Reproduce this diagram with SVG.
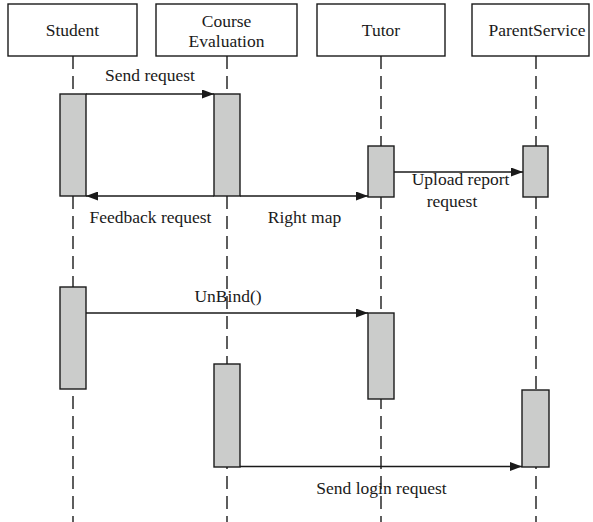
<svg xmlns="http://www.w3.org/2000/svg" width="593" height="522" viewBox="0 0 593 522">
<defs>
<style>
.box{fill:#fff;stroke:#1a1a1a;stroke-width:1.4}
.act{fill:#cbcccb;stroke:#1a1a1a;stroke-width:1.4}
.life{stroke:#1a1a1a;stroke-width:1.4;stroke-dasharray:13 7;fill:none}
.msg{stroke:#1a1a1a;stroke-width:1.4;fill:none;marker-end:url(#arr)}
text{font-family:"Liberation Serif","Times New Roman",serif;font-size:17.5px;fill:#1a1a1a;text-anchor:middle}
</style>
<marker id="arr" viewBox="0 0 12 9" refX="12" refY="4.5" markerWidth="12" markerHeight="9" markerUnits="userSpaceOnUse" orient="auto">
<path d="M0,0 L12,4.5 L0,9 Z" fill="#1a1a1a"/>
</marker>
</defs>
<g id="lifelines">
<line class="life" x1="73" y1="56" x2="73" y2="522"/>
<line class="life" x1="227" y1="56" x2="227" y2="522"/>
<line class="life" x1="381" y1="56" x2="381" y2="522"/>
<line class="life" x1="536" y1="56" x2="536" y2="522"/>
</g>
<g id="student">
<rect class="box" x="8" y="4" width="129" height="52"/>
<text x="72.5" y="36">Student</text>
</g>
<g id="course">
<rect class="box" x="156" y="4" width="141" height="52"/>
<text x="226.5" y="27">Course</text>
<text x="226.5" y="47">Evaluation</text>
</g>
<g id="tutor">
<rect class="box" x="317" y="4" width="128" height="52"/>
<text x="381" y="36">Tutor</text>
</g>
<g id="parentservice">
<rect class="box" x="472" y="4" width="117" height="52"/>
<text x="537" y="36">ParentService</text>
</g>
<g id="activations">
<rect class="act" x="60" y="94" width="26" height="102"/>
<rect class="act" x="214" y="94" width="26" height="102"/>
<rect class="act" x="368" y="146" width="26" height="51"/>
<rect class="act" x="523" y="146" width="25" height="51"/>
<rect class="act" x="60" y="287" width="26" height="102"/>
<rect class="act" x="368" y="313" width="26" height="86"/>
<rect class="act" x="214" y="364" width="26" height="103"/>
<rect class="act" x="522" y="390" width="27" height="77"/>
</g>
<g id="connectors">
<line class="msg" x1="86" y1="94" x2="214" y2="94"/>
<line class="msg" x1="214" y1="196" x2="86" y2="196"/>
<line class="msg" x1="240" y1="196" x2="368" y2="196"/>
<line class="msg" x1="394" y1="172" x2="523" y2="172"/>
<line class="msg" x1="86" y1="313" x2="368" y2="313"/>
<line class="msg" x1="240" y1="466.5" x2="522" y2="466.5"/>
</g>
<g id="labels">
<text x="150" y="81">Send request</text>
<text x="150.5" y="223">Feedback request</text>
<text x="304.5" y="223">Right map</text>
<text x="460.5" y="185">Upload report</text>
<text x="452" y="207">request</text>
<text x="228" y="302">UnBind()</text>
<text x="381.5" y="494">Send login request</text>
</g>
</svg>
